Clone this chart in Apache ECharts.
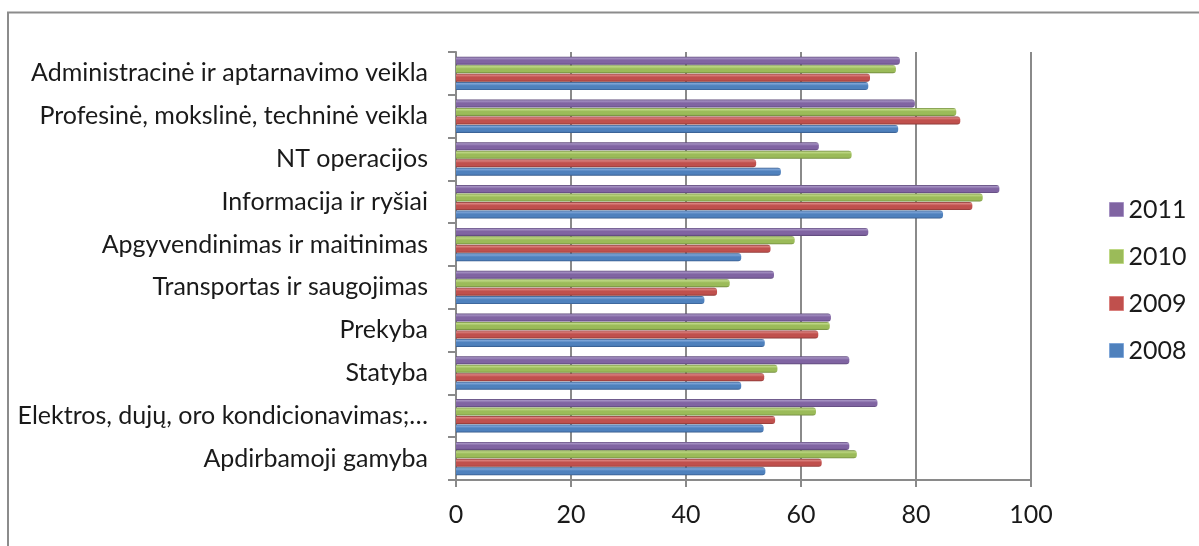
<!DOCTYPE html>
<html>
<head>
<meta charset="utf-8">
<script src="https://cdn.jsdelivr.net/npm/echarts@6/dist/echarts.min.js"></script>
<style>
  html, body { margin: 0; padding: 0; background: #ffffff; }
  #chart { width: 1199px; height: 546px; }
</style>
</head>
<body>
<div id="chart"></div>
<script>
// Sectors, listed from the bottom of the axis to the top
const categories = [
  'Apdirbamoji gamyba',
  'Elektros, dujų, oro kondicionavimas;…',
  'Statyba',
  'Prekyba',
  'Transportas ir saugojimas',
  'Apgyvendinimas ir maitinimas',
  'Informacija ir ryšiai',
  'NT operacijos',
  'Profesinė, mokslinė, techninė veikla',
  'Administracinė ir aptarnavimo veikla'
];

const values2008 = [53.8, 53.5, 49.6, 53.7, 43.2, 49.6, 84.7, 56.5, 76.9, 71.7];
const values2009 = [63.6, 55.5, 53.6, 63.0, 45.4, 54.7, 89.8, 52.2, 87.7, 72.0];
const values2010 = [69.7, 62.6, 55.9, 65.0, 47.6, 58.9, 91.6, 68.8, 87.0, 76.5];
const values2011 = [68.4, 73.3, 68.4, 65.2, 55.3, 71.7, 94.5, 63.1, 79.8, 77.2];

// newest year first: it sits on top of each group and of the legend
const years = ['2011', '2010', '2009', '2008'];
const seriesValues = [values2011, values2010, values2009, values2008];
const xTicks = [0, 20, 40, 60, 80, 100];

// base / highlight / shadow shades for the cylinder-like bars
const palette = {
  '2008': ['#4F81BD', '#7FA6D8', '#35598A'],
  '2009': ['#C0504D', '#DA807D', '#8A3735'],
  '2010': ['#9BBB59', '#BED884', '#6E883C'],
  '2011': ['#8064A2', '#A490C2', '#5B4677']
};

const FONT = 'Lato, "Open Sans", sans-serif';
const GRID_COLOR = '#8a8a8a';

function barSeries(year, data) {
  const [base, light, dark] = palette[year];
  return {
    name: year,
    type: 'bar',
    data: data,
    barWidth: 8,
    barGap: '6%',
    itemStyle: {
      color: {
        type: 'linear', x: 0, y: 0, x2: 0, y2: 1,
        colorStops: [
          { offset: 0, color: dark },
          { offset: 0.18, color: light },
          { offset: 0.45, color: base },
          { offset: 0.8, color: base },
          { offset: 1, color: dark }
        ]
      },
      borderRadius: [0, 3, 3, 0]
    }
  };
}

const chart = echarts.init(document.getElementById('chart'), null, { renderer: 'canvas' });

chart.setOption({
  backgroundColor: '#ffffff',
  animation: false,
  textStyle: { fontFamily: FONT },
  graphic: [{
    type: 'rect',
    shape: { x: 8, y: 12.5, width: 1400, height: 800 },
    style: { fill: 'none', stroke: '#8c8c8c', lineWidth: 2 },
    silent: true,
    z: -10
  }],
  grid: { left: 456, top: 52, width: 575, height: 428 },
  legend: {
    orient: 'vertical',
    left: 1109,
    top: 197,
    padding: 0,
    itemWidth: 14,
    itemHeight: 14,
    itemGap: 22,
    icon: 'rect',
    textStyle: { fontFamily: FONT, fontSize: 25, color: '#1a1a1a' },
    data: years.map(y => ({
      name: y,
      itemStyle: { color: palette[y][0], borderColor: palette[y][1], borderWidth: 1 }
    }))
  },
  xAxis: {
    type: 'value',
    min: xTicks[0],
    max: xTicks[xTicks.length - 1],
    interval: xTicks[1] - xTicks[0],
    axisLine: { show: true, lineStyle: { color: GRID_COLOR, width: 2 } },
    axisTick: { show: true, length: 7, lineStyle: { color: GRID_COLOR, width: 2 } },
    splitLine: { show: true, lineStyle: { color: GRID_COLOR, width: 2 } },
    axisLabel: { fontFamily: FONT, fontSize: 25, color: '#1a1a1a', margin: 22 }
  },
  yAxis: {
    type: 'category',
    data: categories,
    axisLine: { show: true, lineStyle: { color: GRID_COLOR, width: 2 } },
    axisTick: { show: true, length: 8, lineStyle: { color: GRID_COLOR, width: 2 } },
    axisLabel: {
      fontFamily: FONT, fontSize: 25, color: '#1a1a1a',
      margin: 28, padding: [6, 0, 0, 0]
    }
  },
  series: years.map((y, i) => barSeries(y, seriesValues[i]))
});
</script>
</body>
</html>
